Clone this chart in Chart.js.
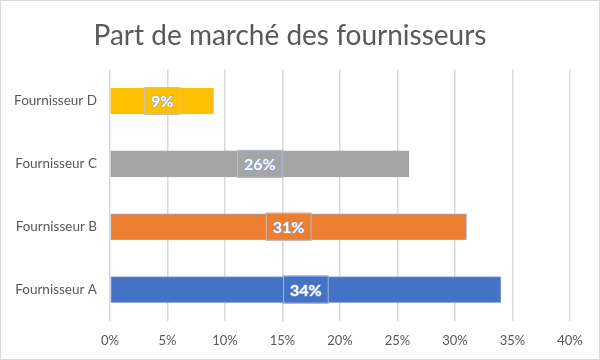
<!DOCTYPE html>
<html>
<head>
<meta charset="utf-8">
<script src="https://cdn.jsdelivr.net/npm/chart.js@4.4.0/dist/chart.umd.min.js"></script>
<style>
  html, body { margin: 0; padding: 0; background: #fff; }
  #wrap { width: 598px; height: 358px; border: 1px solid #d9d9d9; }
  canvas { display: block; }
</style>
</head>
<body>
<div id="wrap"><canvas id="chart" width="598" height="358"></canvas></div>
<script>
const categories = ['Fournisseur A', 'Fournisseur B', 'Fournisseur C', 'Fournisseur D'];
const shares = [34, 31, 26, 9];
const barColors = ['#4472C4', '#ED7D31', '#A5A5A5', '#FFC000'];
const xTicks = [0, 5, 10, 15, 20, 25, 30, 35, 40];

const FONT = "Lato, 'Open Sans', sans-serif";
const TEXT = '#595959';

// centred data labels on a box in the bar colour
const boxLabels = {
  id: 'boxLabels',
  afterDatasetsDraw(chart) {
    const ctx = chart.ctx;
    const meta = chart.getDatasetMeta(0);
    ctx.save();
    ctx.font = 'bold 16px ' + FONT;
    ctx.textAlign = 'center';
    ctx.textBaseline = 'middle';
    meta.data.forEach((bar, i) => {
      const txt = shares[i] + '%';
      const cx = (bar.x + bar.base) / 2;
      const cy = bar.y;
      const w = ctx.measureText(txt).width + 14;
      const h = 28;
      ctx.fillStyle = barColors[i];
      ctx.fillRect(cx - w / 2, cy - h / 2, w, h);
      ctx.strokeStyle = 'rgba(180,199,231,0.8)';
      ctx.lineWidth = 1;
      ctx.strokeRect(cx - w / 2 + 0.5, cy - h / 2 + 0.5, w - 1, h - 1);
      ctx.lineWidth = 1.2;
      ctx.strokeStyle = '#8eaadb';
      ctx.strokeText(txt, cx, cy + 1);
      ctx.fillStyle = '#ffffff';
      ctx.fillText(txt, cx, cy + 1);
    });
    ctx.restore();
  }
};

new Chart(document.getElementById('chart'), {
  type: 'bar',
  data: {
    labels: categories,
    datasets: [{
      data: shares,
      backgroundColor: barColors,
      borderColor: ['#8faadc', '#8faadc', '#a5a5a5', '#ffc000'],
      borderWidth: 1,
      borderSkipped: false,
      barThickness: 26
    }]
  },
  options: {
    indexAxis: 'y',
    responsive: false,
    animation: false,
    layout: { padding: { left: 9, right: 29, top: 0, bottom: 0 } },
    plugins: {
      legend: { display: false },
      tooltip: { enabled: false },
      title: {
        display: true,
        text: 'Part de marché des fournisseurs',
        color: TEXT,
        font: { family: FONT, size: 28, weight: 'normal' },
        padding: { top: 18, bottom: 17 }
      }
    },
    scales: {
      x: {
        min: 0, max: 40,
        afterBuildTicks: s => { s.ticks = xTicks.map(v => ({ value: v })); },
        afterFit: s => { s.height = 38; },
        grid: { color: '#d9d9d9', lineWidth: 1.5, drawTicks: false },
        border: { display: false },
        ticks: {
          color: TEXT,
          padding: 12,
          font: { family: FONT, size: 13 },
          callback: v => v + '%'
        }
      },
      y: {
        reverse: true,
        afterFit: s => { s.width = 100; },
        grid: { display: false, drawTicks: false },
        border: { display: false },
        ticks: {
          color: TEXT,
          padding: 13,
          font: { family: FONT, size: 13.5 }
        }
      }
    }
  },
  plugins: [boxLabels]
});
</script>
</body>
</html>
